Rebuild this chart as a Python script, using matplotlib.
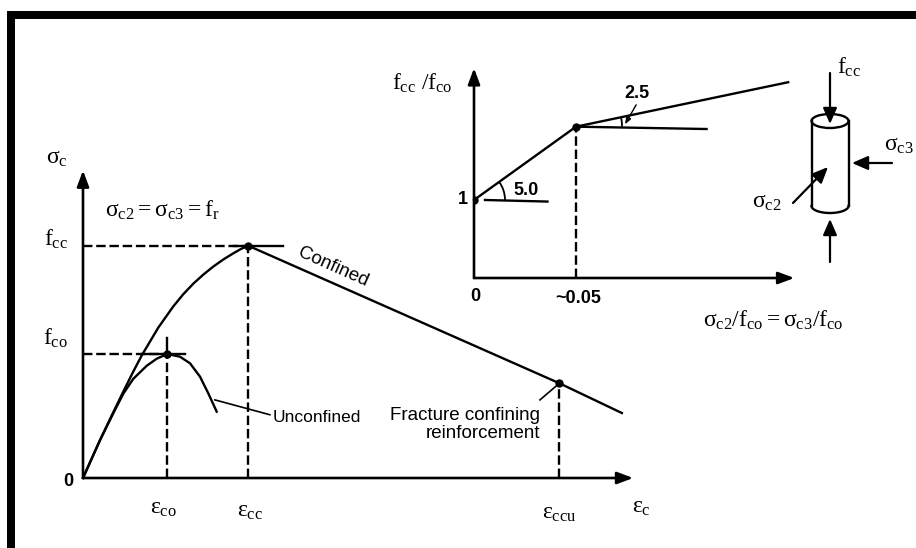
import numpy as np
import matplotlib
matplotlib.use('Agg')
import matplotlib.pyplot as plt
from matplotlib.patches import Arc, Rectangle, Ellipse
from matplotlib.transforms import IdentityTransform

plt.rcParams['mathtext.fontset'] = 'custom'
plt.rcParams['mathtext.rm'] = 'Liberation Serif'
plt.rcParams['mathtext.it'] = 'Liberation Serif'
plt.rcParams['mathtext.bf'] = 'Liberation Serif:bold'
plt.rcParams['mathtext.sf'] = 'Liberation Sans'
plt.rcParams['font.family'] = ['Liberation Sans', 'DejaVu Sans']

# ---------------- data: main stress-strain chart ----------------
# strain in units of 1e-3, stress normalised by f_co (schematic values)
conf_eps = [0, 0.405, 0.721, 0.960, 1.198, 1.398, 1.793, 2.150, 2.390, 2.626, 2.864,
            3.102, 3.340, 3.579, 3.760, 3.936]
conf_sig = [0, 0.306, 0.530, 0.697, 0.859, 0.988, 1.213, 1.384, 1.483, 1.567, 1.640,
            1.705, 1.762, 1.812, 1.847, 1.873]
desc_eps = [3.936, 11.33, 12.83]
desc_sig = [1.873, 0.766, 0.524]
unconf_eps = [0, 0.405, 0.721, 0.960, 1.198, 1.517, 1.755, 2.007, 2.310, 2.548, 2.786, 2.983, 3.183]
unconf_sig = [0, 0.305, 0.522, 0.680, 0.800, 0.905, 0.962, 1.0, 0.978, 0.925, 0.817, 0.683, 0.535]
eps_co, f_co = 2.007, 1.0
eps_cc, f_cc = 3.936, 1.873
eps_ccu, sig_ccu = 11.33, 0.766

# ---------------- data: inset (strength ratio) ----------------
ratio_x = [0, 0.05, 0.154]
ratio_y = [1.0, 1.94, 2.51]
knee_x, knee_y = 0.05, 1.94

W, H = 916, 548
fig = plt.figure(figsize=(W / 100, H / 100), dpi=100)
fig.patch.set_facecolor('white')

# overlay in pixel coordinates for frame and cylinder sketch
ov = fig.add_axes([0, 0, 1, 1])
ov.set_xlim(0, W)
ov.set_ylim(H, 0)
ov.axis('off')
ov.add_patch(Rectangle((7, 11), W - 7, 8, color='black', lw=0))
ov.add_patch(Rectangle((7, 11), 8, H - 11, color='black', lw=0))

LW = 1.7
DASH = (0, (4, 1.6))
AX_ARROW = dict(arrowstyle='-|>,head_length=0.8,head_width=0.3', lw=1.9, color='black',
                mutation_scale=12, shrinkA=0, shrinkB=0)
MS = 17      # math label size
NS = 13      # number label size

# ---------------- main chart ----------------
ax = fig.add_axes([83 / W, (H - 478) / H, 560 / W, 320 / H])
ax.set_xlim(0, 560 / 42)
ax.set_ylim(0, 320 / 124)
ax.axis('off')
ax.annotate('', xy=(13.1, 0), xytext=(0, 0), arrowprops=AX_ARROW, annotation_clip=False)
ax.annotate('', xy=(0, 2.48), xytext=(0, 0), arrowprops=AX_ARROW, annotation_clip=False)

ax.plot(conf_eps, conf_sig, color='black', lw=LW, clip_on=False)
ax.plot(desc_eps, desc_sig, color='black', lw=LW, clip_on=False)
ax.plot(unconf_eps, unconf_sig, color='black', lw=LW, clip_on=False)

# reference lines
ax.plot([0, eps_cc], [f_cc, f_cc], color='black', lw=LW, ls=DASH)
ax.plot([eps_cc - 0.35, eps_cc + 0.83], [f_cc, f_cc], color='black', lw=LW)
ax.plot([eps_cc, eps_cc], [0, f_cc], color='black', lw=LW, ls=DASH)
ax.plot([0, eps_co], [f_co, f_co], color='black', lw=LW, ls=DASH)
ax.plot([eps_co - 0.6, eps_co + 0.42], [f_co, f_co], color='black', lw=LW)
ax.plot([eps_co, eps_co], [0, f_co], color='black', lw=LW, ls=DASH)
ax.plot([eps_co, eps_co], [f_co, f_co + 0.13], color='black', lw=LW)
ax.plot([eps_ccu, eps_ccu], [0, sig_ccu], color='black', lw=LW, ls=DASH)
ax.plot([eps_co, eps_cc, eps_ccu], [f_co, f_cc, sig_ccu], 'o', color='black', ms=5)

ax.text(-0.62, 2.58, r'$\sigma_c$', fontsize=MS, ha='center', va='center')
ax.text(-0.64, f_cc + 0.05, r'$f_{cc}$', fontsize=MS, ha='center', va='center')
ax.text(-0.66, f_co + 0.13, r'$f_{co}$', fontsize=MS, ha='center', va='center')
ax.text(-0.36, -0.03, '0', fontsize=NS, ha='center', va='center', fontweight='bold')
ax.text(eps_co - 0.1, -0.24, r'$\varepsilon_{co}$', fontsize=MS, ha='center', va='center')
ax.text(eps_cc + 0.05, -0.27, r'$\varepsilon_{cc}$', fontsize=MS, ha='center', va='center')
ax.text(eps_ccu, -0.28, r'$\varepsilon_{ccu}$', fontsize=MS, ha='center', va='center')
ax.text(13.3, -0.23, r'$\varepsilon_c$', fontsize=MS, ha='center', va='center')
ax.text(0.52, 2.16, r'$\sigma_{c2}=\sigma_{c3}=f_r$', fontsize=MS, ha='left', va='center')

ax.text(5.95, 1.70, 'Confined', fontsize=13.5, rotation=-24, rotation_mode='anchor',
        ha='center', va='center')
ax.text(4.52, 0.49, 'Unconfined', fontsize=12.5, ha='left', va='center')
ax.plot([3.14, 4.45], [0.63, 0.51], color='black', lw=1.2)
ax.text(10.88, 0.43, 'Fracture confining\nreinforcement', fontsize=13.5, ha='right',
        va='center', multialignment='right', linespacing=1.05)
ax.plot([10.88, 11.26], [0.63, 0.74], color='black', lw=1.2)

# ---------------- inset ----------------
ai = fig.add_axes([474 / W, (H - 278) / H, 326 / W, 218 / H])
ai.set_xlim(0, 326 / 2040)
ai.set_ylim(0, 218 / 78)
ai.axis('off')
ai.annotate('', xy=(0.157, 0), xytext=(0, 0), arrowprops=AX_ARROW, annotation_clip=False)
ai.annotate('', xy=(0, 2.69), xytext=(0, 0), arrowprops=AX_ARROW, annotation_clip=False)
ai.plot(ratio_x, ratio_y, color='black', lw=LW, clip_on=False)
ai.plot([knee_x, 0.114], [knee_y, knee_y - 0.03], color='black', lw=LW)
ai.plot([0.0054, 0.036], [1.0, 0.98], color='black', lw=LW)
ai.plot([knee_x, knee_x], [0, knee_y], color='black', lw=LW, ls=DASH)
ai.plot([ratio_x[0], knee_x], [ratio_y[0], knee_y], 'o', color='black', ms=5)

ai.text(-0.0255, 2.5, r'$f_{cc}\ /f_{co}$', fontsize=MS, ha='center', va='center')
ai.text(-0.003, 1.0, '1', fontsize=NS, ha='right', va='center', fontweight='bold')
ai.text(0.0008, -0.24, '0', fontsize=NS, ha='center', va='center', fontweight='bold')
ai.text(0.051, -0.26, '~0.05', fontsize=NS, ha='center', va='center', fontweight='bold')
ai.text(0.1466, -0.54, r'$\sigma_{c2}/f_{co}=\sigma_{c3}/f_{co}$', fontsize=MS,
        ha='center', va='center')
ai.text(0.0255, 1.12, '5.0', fontsize=NS, ha='center', va='center', fontweight='bold')
ai.text(0.080, 2.36, '2.5', fontsize=NS, ha='center', va='center', fontweight='bold')
ai.annotate('', xy=(0.074, 1.97), xytext=(0.0795, 2.22),
            arrowprops=dict(arrowstyle='-|>,head_length=0.4,head_width=0.15', lw=1.0,
                            color='black', mutation_scale=10, shrinkA=0, shrinkB=0))

# angle arcs drawn in display pixels
def angle_arc(axis, p0, p1, radius):
    a = axis.transData.transform(p0)
    b = axis.transData.transform(p1)
    ang = np.degrees(np.arctan2(b[1] - a[1], b[0] - a[0]))
    arc = Arc(a, 2 * radius, 2 * radius, theta1=0, theta2=ang, lw=1.3, color='black',
              transform=IdentityTransform())
    fig.add_artist(arc)

angle_arc(ai, (ratio_x[0], ratio_y[0]), (knee_x, knee_y), 31)
angle_arc(ai, (knee_x, knee_y), (ratio_x[2], ratio_y[2]), 46)

# ---------------- cylinder sketch ----------------
cx, cw, ctop, cbot, ch = 830, 37, 121, 206, 14
ov.add_patch(Ellipse((cx, ctop), cw, ch, fill=False, lw=LW, color='black'))
ov.plot([cx - cw / 2, cx - cw / 2], [ctop, cbot], color='black', lw=LW)
ov.plot([cx + cw / 2, cx + cw / 2], [ctop, cbot], color='black', lw=LW)
t = np.linspace(0, np.pi, 40)
ov.plot(cx + cw / 2 * np.cos(t), cbot + ch / 2 * np.sin(t), color='black', lw=LW)

CARROW = dict(arrowstyle='-|>,head_length=0.8,head_width=0.35', lw=1.6, color='black',
              mutation_scale=12, shrinkA=0, shrinkB=0)
ov.annotate('', xy=(cx, 124), xytext=(cx, 73), arrowprops=CARROW)
ov.annotate('', xy=(cx, 219), xytext=(cx, 262), arrowprops=CARROW)
ov.annotate('', xy=(852, 163), xytext=(892, 163), arrowprops=CARROW)
ov.annotate('', xy=(828, 167), xytext=(793, 203), arrowprops=CARROW)
ov.text(849, 67, r'$f_{cc}$', fontsize=MS, ha='center', va='center')
ov.text(899, 145, r'$\sigma_{c3}$', fontsize=MS, ha='center', va='center')
ov.text(767, 202, r'$\sigma_{c2}$', fontsize=MS, ha='center', va='center')

fig.savefig('out.png', dpi=100, facecolor='white')
